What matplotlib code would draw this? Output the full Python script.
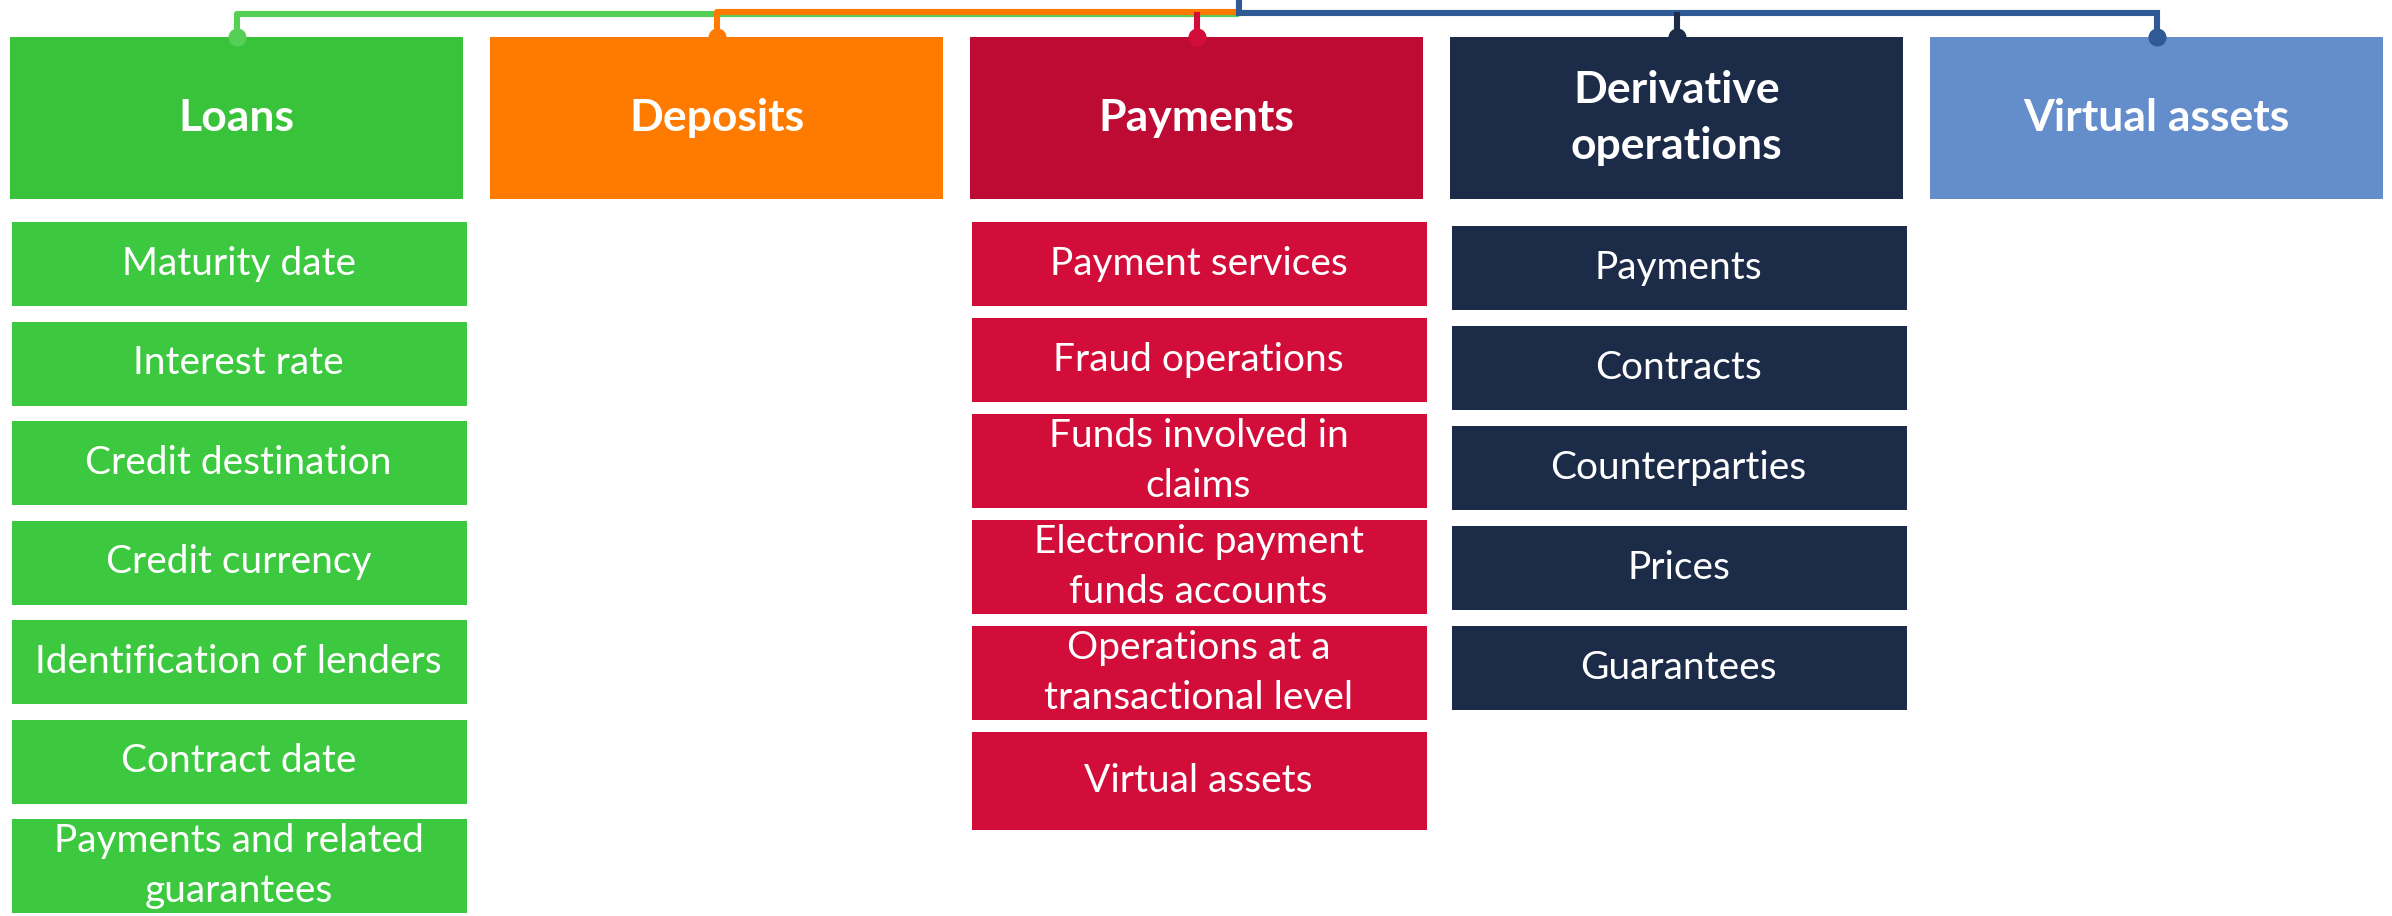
import matplotlib.pyplot as plt
from matplotlib.patches import Rectangle

# categories and their detail items
categories = ['Loans', 'Deposits', 'Payments', 'Derivative\noperations', 'Virtual assets']
loans_items = ['Maturity date', 'Interest rate', 'Credit destination', 'Credit currency',
               'Identification of lenders', 'Contract date', 'Payments and related\nguarantees']
deposits_items = []
payments_items = ['Payment services', 'Fraud operations', 'Funds involved in\nclaims',
                  'Electronic payment\nfunds accounts', 'Operations at a\ntransactional level',
                  'Virtual assets']
derivative_items = ['Payments', 'Contracts', 'Counterparties', 'Prices', 'Guarantees']
virtual_items = []
items = [loans_items, deposits_items, payments_items, derivative_items, virtual_items]

# styling
head_colors = ['#38C33A', '#FF7B00', '#BE0B33', '#1B2B48', '#648DCB']
item_colors = ['#3CC93F', '#FF7B00', '#D20D3A', '#1B2B48', '#648DCB']
link_colors = ['#55CF55', '#FF7B00', '#D20D3A', '#1B2B48', '#2F5A96']

W, H = 2392, 916
col_x0, col_pitch, box_w = 10, 480, 453
head_top, head_h = 37, 162
row_start = [222, 222, 222, 226, 226]
row_gap = [15.5, 12, 12, 16, 16]
row_h = {1: 84, 2: 94}
font = 'Lato'


def main():
    fig = plt.figure(figsize=(W / 100, H / 100), dpi=100)
    ax = fig.add_axes([0, 0, 1, 1])
    ax.set_xlim(0, W)
    ax.set_ylim(H, 0)
    ax.axis('off')

    centers = []
    for i, (cat, sub) in enumerate(zip(categories, items)):
        x = col_x0 + col_pitch * i
        cx = x + box_w / 2
        centers.append(cx)
        ax.add_patch(Rectangle((x, head_top), box_w, head_h, color=head_colors[i], lw=0))
        ax.text(cx, head_top + head_h / 2, cat, color='white', fontsize=32, fontweight='bold',
                family=font, ha='center', va='center', linespacing=1.5)

        y = row_start[i]
        for label in sub:
            h = row_h[label.count('\n') + 1]
            # last payments box is a bit taller in the original
            if i == 2 and label == sub[-1]:
                h = 98
            ax.add_patch(Rectangle((x + 2, y), box_w + 2, h, color=item_colors[i], lw=0))
            ax.text(cx + 2, y + h / 2, label, color='white', fontsize=28, family=font,
                    ha='center', va='center', linespacing=1.5)
            y += h + row_gap[i]

    # connectors at the top
    hub = centers[2] + 42
    lw = 4.4
    ax.plot([centers[0], centers[0], hub], [head_top, 14, 14], color=link_colors[0], lw=lw,
            solid_joinstyle='round', solid_capstyle='butt')
    ax.plot([centers[1], centers[1], hub], [head_top, 12, 12], color=link_colors[1], lw=lw,
            solid_joinstyle='round', solid_capstyle='butt')
    ax.plot([centers[2], centers[2]], [15, head_top], color=link_colors[2], lw=lw)
    ax.plot([hub, hub, centers[4], centers[4]], [0, 13, 13, head_top], color=link_colors[4],
            lw=lw, solid_joinstyle='miter', solid_capstyle='butt')
    ax.plot([centers[3], centers[3]], [15, head_top], color=link_colors[3], lw=lw)
    for i in range(5):
        ax.scatter(centers[i], head_top, s=170, color=link_colors[i], lw=0, zorder=5)

    fig.savefig('out.png', dpi=100, facecolor='white')


if __name__ == '__main__':
    main()
